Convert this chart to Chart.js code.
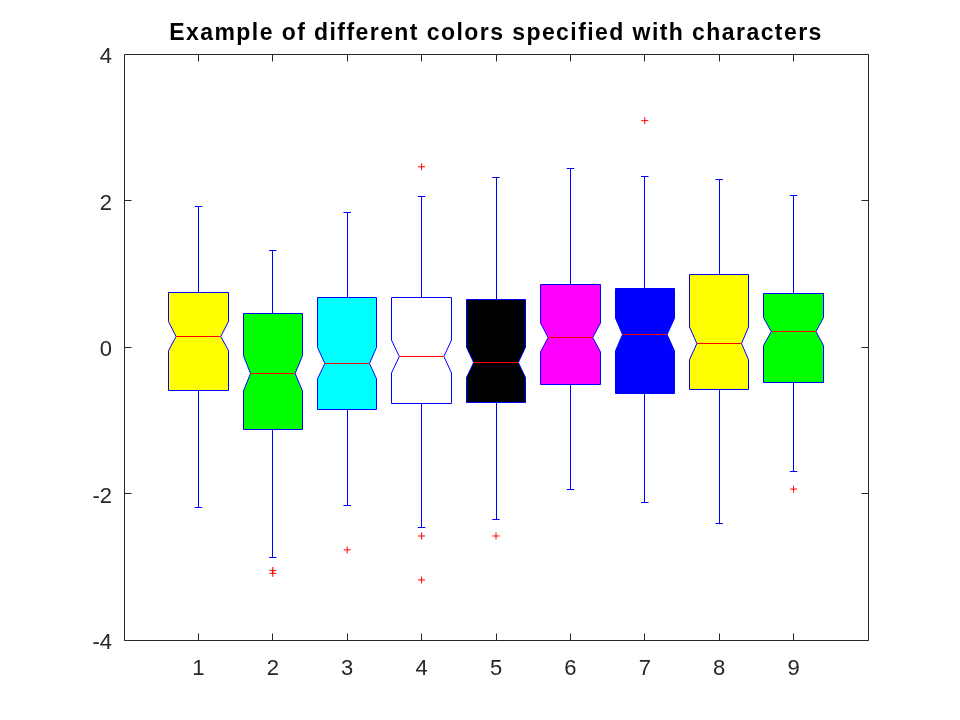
<!DOCTYPE html>
<html>
<head>
<meta charset="utf-8">
<title>Notched boxplot colours</title>
<script src="https://cdn.jsdelivr.net/npm/chart.js@4.4.1/dist/chart.umd.min.js"></script>
<style>
  html, body { margin: 0; padding: 0; background: #fff; }
  canvas { display: block; }
</style>
</head>
<body>
<canvas id="boxChart" width="960" height="720"></canvas>
<script>
// Box statistics, one entry per group
const groups = [1, 2, 3, 4, 5, 6, 7, 8, 9];
const lowerWhisker = [-2.19, -2.87, -2.16, -2.46, -2.35, -1.94, -2.12, -2.41, -1.70];
const q1 = [-0.59, -1.12, -0.85, -0.77, -0.76, -0.51, -0.64, -0.58, -0.48];
const medians = [0.15, -0.36, -0.22, -0.13, -0.21, 0.13, 0.17, 0.05, 0.21];
const q3 = [0.75, 0.46, 0.67, 0.67, 0.65, 0.86, 0.80, 0.99, 0.73];
const upperWhisker = [1.92, 1.32, 1.83, 2.06, 2.32, 2.44, 2.33, 2.29, 2.07];
const notchHalf = [0.198, 0.241, 0.214, 0.225, 0.205, 0.198, 0.223, 0.223, 0.191];

// Outliers: group and value
const outlierGroup = [2, 2, 3, 4, 4, 4, 5, 7, 9];
const outlierValue = [-3.05, -3.09, -2.77, 2.46, -2.58, -3.18, -2.58, 3.09, -1.94];

// Axis ticks
const xTicks = [1, 2, 3, 4, 5, 6, 7, 8, 9];
const yTicks = [-4, -2, 0, 2, 4];

const titleText = 'Example of different colors specified with characters';

// Fill colours given as characters: y g c w k m b y g
const boxColors = ['#ffff00', '#00ff00', '#00ffff', '#ffffff', '#000000',
                   '#ff00ff', '#0000ff', '#ffff00', '#00ff00'];

const BOX_HALF = 0.4;     // half box width, in x units
const NOTCH_INSET = 0.1;  // how far the notch cuts in
const CAP_HALF = 0.05;    // whisker cap half width
const AXIS_COLOR = '#262626';
const FONT = '"Liberation Sans", Arial, Helvetica, sans-serif';

const snap = v => Math.floor(v) + 0.5;

// draws the notched boxes and whiskers through the chart scales
const boxPlugin = {
  id: 'notchedBoxes',
  beforeDatasetsDraw(chart) {
    const { ctx, scales: { x, y } } = chart;
    ctx.save();
    ctx.lineWidth = 1;
    groups.forEach((g, i) => {
      const xc = snap(x.getPixelForValue(g));
      const xl = snap(x.getPixelForValue(g - BOX_HALF));
      const xr = snap(x.getPixelForValue(g + BOX_HALF));
      const xnl = x.getPixelForValue(g - BOX_HALF + NOTCH_INSET);
      const xnr = x.getPixelForValue(g + BOX_HALF - NOTCH_INSET);
      const capL = x.getPixelForValue(g - CAP_HALF);
      const capR = x.getPixelForValue(g + CAP_HALF);

      const yTop = snap(y.getPixelForValue(q3[i]));
      const yBot = snap(y.getPixelForValue(q1[i]));
      const yMed = snap(y.getPixelForValue(medians[i]));
      const yNu = y.getPixelForValue(medians[i] + notchHalf[i]);
      const yNl = y.getPixelForValue(medians[i] - notchHalf[i]);
      const yUw = snap(y.getPixelForValue(upperWhisker[i]));
      const yLw = snap(y.getPixelForValue(lowerWhisker[i]));

      // whiskers and caps
      ctx.strokeStyle = '#0000ff';
      ctx.beginPath();
      ctx.moveTo(xc, yTop); ctx.lineTo(xc, yUw);
      ctx.moveTo(capL, yUw); ctx.lineTo(capR, yUw);
      ctx.moveTo(xc, yBot); ctx.lineTo(xc, yLw);
      ctx.moveTo(capL, yLw); ctx.lineTo(capR, yLw);
      ctx.stroke();

      // notched box
      ctx.beginPath();
      ctx.moveTo(xl, yTop);
      ctx.lineTo(xr, yTop);
      ctx.lineTo(xr, yNu);
      ctx.lineTo(xnr, yMed);
      ctx.lineTo(xr, yNl);
      ctx.lineTo(xr, yBot);
      ctx.lineTo(xl, yBot);
      ctx.lineTo(xl, yNl);
      ctx.lineTo(xnl, yMed);
      ctx.lineTo(xl, yNu);
      ctx.closePath();
      ctx.fillStyle = boxColors[i];
      ctx.fill();
      ctx.stroke();

      // median
      ctx.strokeStyle = '#ff0000';
      ctx.beginPath();
      ctx.moveTo(xnl, yMed);
      ctx.lineTo(xnr, yMed);
      ctx.stroke();
    });
    ctx.restore();
  }
};

// axes frame with inward ticks on all four sides, plus the title
const framePlugin = {
  id: 'frame',
  afterDraw(chart) {
    const { ctx, chartArea: a, scales: { x, y } } = chart;
    const len = 7;
    const L = snap(a.left), R = snap(a.right), T = snap(a.top), B = snap(a.bottom);
    ctx.save();
    ctx.strokeStyle = AXIS_COLOR;
    ctx.lineWidth = 1;
    ctx.beginPath();
    ctx.rect(L, T, R - L, B - T);
    xTicks.forEach(v => {
      const px = snap(x.getPixelForValue(v));
      ctx.moveTo(px, B); ctx.lineTo(px, B - len);
      ctx.moveTo(px, T); ctx.lineTo(px, T + len);
    });
    yTicks.forEach(v => {
      const py = snap(y.getPixelForValue(v));
      ctx.moveTo(L, py); ctx.lineTo(L + len, py);
      ctx.moveTo(R, py); ctx.lineTo(R - len, py);
    });
    ctx.stroke();

    // title, spaced out a little like the original renderer
    ctx.font = 'bold 23px ' + FONT;
    ctx.fillStyle = '#000000';
    ctx.textAlign = 'center';
    ctx.textBaseline = 'alphabetic';
    const plain = ctx.measureText(titleText).width;
    if ('letterSpacing' in ctx) {
      ctx.letterSpacing = Math.max(0, (652 - plain) / (titleText.length - 1)).toFixed(2) + 'px';
    }
    ctx.fillText(titleText, (a.left + a.right) / 2, 39.5);
    ctx.restore();
  }
};

new Chart(document.getElementById('boxChart').getContext('2d'), {
  type: 'scatter',
  data: {
    datasets: [{
      label: 'outliers',
      data: outlierGroup.map((g, i) => ({ x: g, y: outlierValue[i] })),
      pointStyle: 'cross',
      pointRadius: 3.5,
      borderColor: '#ff0000',
      borderWidth: 1,
      backgroundColor: '#ff0000'
    }]
  },
  options: {
    responsive: false,
    animation: false,
    devicePixelRatio: 1,
    events: [],
    layout: { padding: { left: 0, right: 92, top: 54, bottom: 0 } },
    plugins: {
      legend: { display: false },
      tooltip: { enabled: false },
      title: { display: false }
    },
    scales: {
      x: {
        type: 'linear',
        min: 0,
        max: 10,
        grid: { display: false, drawTicks: false },
        border: { display: false },
        afterBuildTicks: s => { s.ticks = xTicks.map(v => ({ value: v })); },
        afterFit: s => { s.height = 80; },
        ticks: { color: AXIS_COLOR, padding: 16, font: { family: FONT, size: 22 }, callback: v => String(v) }
      },
      y: {
        type: 'linear',
        min: -4,
        max: 4,
        grid: { display: false, drawTicks: false },
        border: { display: false },
        afterBuildTicks: s => { s.ticks = yTicks.map(v => ({ value: v })); },
        afterFit: s => { s.width = 124; },
        ticks: { color: AXIS_COLOR, padding: 12, labelOffset: 3, font: { family: FONT, size: 22 }, callback: v => String(v) }
      }
    }
  },
  plugins: [boxPlugin, framePlugin]
});
</script>
</body>
</html>
